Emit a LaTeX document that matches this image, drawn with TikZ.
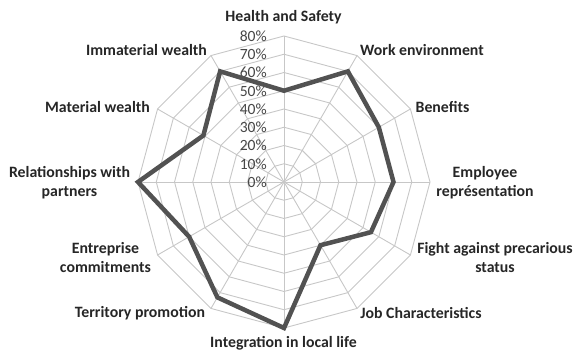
\documentclass[tikz,border=0pt]{standalone}
\usepackage{fontspec}
\setmainfont{Carlito}
\usetikzlibrary{calc}
\begin{document}
\begin{tikzpicture}[x=1pt,y=-1pt,
  grid/.style={draw=black!22,line width=0.9pt},
  dataline/.style={draw=black!68,line width=4.5pt,line join=miter},
  cat/.style={font=\fontsize{15.8}{19}\selectfont\bfseries,text=black!85,align=center,inner sep=0pt},
  pct/.style={font=\fontsize{15.6}{18}\selectfont,text=black!72,anchor=east,inner sep=0pt}]
\useasboundingbox (0,0) rectangle (576,352);
\coordinate (C) at (284,182);
% grid rings
\foreach \k in {1,...,8}{
  \draw[grid] ($(C)+(90:{\k*18.25pt})$) \foreach \i in {1,...,11}{ -- ($(C)+({90-30*\i}:{\k*18.25pt})$)} -- cycle;
}
% spokes
\foreach \i in {0,...,11}{
  \coordinate (s\i) at ($(C)+({90-30*\i}:146pt)$);
  \draw[grid] (C) -- (s\i);
}
% percent labels
\foreach \k in {0,...,8}{
  \node[pct] (p\k) at (267,{182-\k*18.25}) {\the\numexpr\k*10\relax\%};
}
% data
\foreach \i/\v in {0/50,1/70,2/60,3/60,4/55,5/40,6/80,7/73,8/60,9/80,10/51,11/70}{
  \coordinate (d\i) at ($(C)+({90-30*\i}:{\v*1.825pt})$);
}
\draw[dataline] (d0) -- (d1) -- (d2) -- (d3) -- (d4) -- (d5) -- (d6) -- (d7) -- (d8) -- (d9) -- (d10) -- (d11) -- cycle;
% category labels
\node[cat] (l0) at (283.5,17) {Health and Safety};
\node[cat] (l1) at (422,50) {Work environment};
\node[cat] (l2) at (442.5,107) {Benefits};
\node[cat] (l3) at (485,182.5) {Employee\\représentation};
\node[cat] (l4) at (495,257.5) {Fight against precarious\\status};
\node[cat] (l5) at (421,313) {Job Characteristics};
\node[cat] (l6) at (283.5,343) {Integration in local life};
\node[cat] (l7) at (140,313) {Territory promotion};
\node[cat] (l8) at (105.5,257.5) {Entreprise\\commitments};
\node[cat] (l9) at (69.5,182.5) {Relationships with\\partners};
\node[cat] (l10) at (97.5,107) {Material wealth};
\node[cat] (l11) at (146.5,50) {Immaterial wealth};
\end{tikzpicture}
\end{document}
